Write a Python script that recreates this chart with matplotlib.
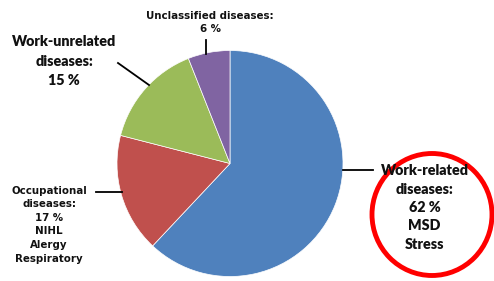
import matplotlib
matplotlib.use("Agg")
import matplotlib.pyplot as plt
from matplotlib.patches import Ellipse

categories = ["Work-related diseases", "Occupational diseases", "Work-unrelated diseases", "Unclassified diseases"]
values = [62, 17, 15, 6]
colors = ["#4F81BD", "#C0504D", "#9BBB59", "#8064A2"]

W, H = 494, 281
fig = plt.figure(figsize=(W / 100, H / 100), dpi=100)
ax = fig.add_axes([0, 0, 1, 1])

def Y(y):
    return H - y

ax.pie(values, colors=colors, startangle=90, counterclock=False,
       center=(230, Y(163.5)), radius=113,
       wedgeprops=dict(edgecolor="white", linewidth=0.5))
ax.set_xlim(0, W)
ax.set_ylim(0, H)
ax.set_aspect("auto")
ax.axis("off")

font_main = dict(family="Lato", fontweight="heavy", fontsize=10.3, color="#111111",
                 ha="center", va="center", linespacing=1.6)
font_circle = dict(font_main, linespacing=1.5)
font_narrow = dict(family="DejaVu Sans", fontstretch="condensed", fontweight="bold",
                   fontsize=8.2, color="#111111", ha="center", va="center", linespacing=1.45)

ax.text(210, Y(22.5), "Unclassified diseases:\n6 %", **font_narrow)
ax.plot([206, 206], [Y(40), Y(54)], color="black", lw=1.3)

ax.text(64, Y(61), "Work-unrelated\ndiseases:\n15 %", **font_main)
ax.plot([118, 149], [Y(63), Y(85)], color="black", lw=1.3)

ax.text(49, Y(224.5), "Occupational\ndiseases:\n17 %\nNIHL\nAlergy\nRespiratory", **font_narrow)
ax.plot([96, 122], [Y(192), Y(192)], color="black", lw=1.3)

ax.plot([343, 373], [Y(170), Y(170)], color="black", lw=1.3)
ax.add_patch(Ellipse((432, Y(214.5)), 120, 122, fill=False, edgecolor="#FF0000", lw=3.5))
ax.text(424.5, Y(207.5), "Work-related\ndiseases:\n62 %\nMSD\nStress", **font_circle)

fig.savefig("out.png", dpi=100)
